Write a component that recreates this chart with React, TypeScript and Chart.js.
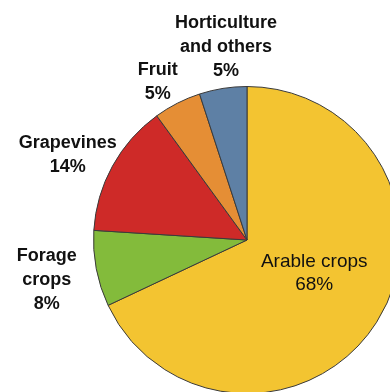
import React, { useEffect, useRef } from "react";
import { Chart, registerables } from "chart.js";

Chart.register(...registerables);

const categories = ["Arable crops", "Forage crops", "Grapevines", "Fruit", "Horticulture and others"];
const shares = [68, 8, 14, 5, 5];
const labelLines = [
  ["Arable crops", "68%"],
  ["Forage", "crops", "8%"],
  ["Grapevines", "14%"],
  ["Fruit", "5%"],
  ["Horticulture", "and others", "5%"],
];
const colors = ["#F3C431", "#83BB3B", "#CE2A28", "#E58E35", "#5E80A5"];

// label placement relative to pie centre, in units of radius
const labelOffsets = [
  [0.438, 0.219],
  [-1.305, 0.261],
  [-1.168, -0.552],
  [-0.581, -1.028],
  [-0.137, -1.257],
];

const labelPlugin = {
  id: "pieLabels",
  afterDraw(chart: any) {
    const ctx = chart.ctx;
    const meta = chart.getDatasetMeta(0);
    const arc0 = meta.data[0];
    const cx = arc0.x;
    const cy = arc0.y;
    const r = arc0.outerRadius;
    ctx.save();
    ctx.fillStyle = "#111";
    ctx.textAlign = "center";
    ctx.textBaseline = "middle";
    labelLines.forEach((lines, i) => {
      const inside = i === 0;
      ctx.font = inside ? "19px 'Liberation Sans', Arial, sans-serif" : "bold 18px 'Liberation Sans', Arial, sans-serif";
      const lh = inside ? 23 : 24;
      const x = cx + labelOffsets[i][0] * r;
      const y = cy + labelOffsets[i][1] * r;
      const start = y - ((lines.length - 1) * lh) / 2;
      lines.forEach((t, j) => ctx.fillText(t, x, start + j * lh));
    });
    ctx.restore();
  },
};

export default function App() {
  const ref = useRef<HTMLCanvasElement>(null);
  useEffect(() => {
    if (!ref.current) return;
    const chart = new Chart(ref.current, {
      type: "pie",
      data: {
        labels: categories,
        datasets: [
          {
            data: shares,
            backgroundColor: colors,
            borderColor: "#3a3a3a",
            borderWidth: 1,
          },
        ],
      },
      options: {
        animation: false,
        responsive: false,
        devicePixelRatio: 1,
        layout: { padding: { left: 93, top: 86, right: 9, bottom: 16 } },
        plugins: { legend: { display: false }, tooltip: { enabled: false } },
      },
      plugins: [labelPlugin],
    });
    return () => chart.destroy();
  }, []);
  return (
    <div style={{ position: "fixed", left: 0, top: 0, width: 410, height: 410, background: "#fff" }}>
      <canvas ref={ref} width={410} height={410} style={{ width: 410, height: 410 }} />
    </div>
  );
}
